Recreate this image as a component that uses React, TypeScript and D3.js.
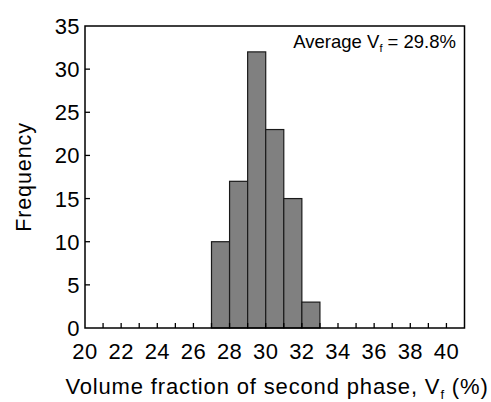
import React from "react";
import * as d3 from "d3";

const binStarts = [27, 28, 29, 30, 31, 32];
const frequencies = [10, 17, 32, 23, 15, 3];
const binWidth = 1;
const xTickLabels = [20, 22, 24, 26, 28, 30, 32, 34, 36, 38, 40];
const xMinorTicks = d3.range(21, 41, 1);
const yTickLabels = [0, 5, 10, 15, 20, 25, 30, 35];
const xTitle = "Volume fraction of second phase, V";
const yTitle = "Frequency";

const W = 491;
const H = 402;
const m = { left: 85, right: 26.5, top: 26, bottom: 74 };
const FONT = "'Liberation Sans', Arial, Helvetica, sans-serif";

export default function App() {
  const x = d3.scaleLinear().domain([20, 41]).range([m.left, W - m.right]);
  const y = d3.scaleLinear().domain([0, 35]).range([H - m.bottom, m.top]);
  const x0 = x(20), x1 = x(41), y0 = y(0), y1 = y(35);
  return (
    <svg width={W} height={H} style={{ position: "absolute", left: 0, top: 0, background: "#fff" }}
      fontFamily={FONT}>
      {binStarts.map((s, i) => (
        <rect key={i} x={x(s)} y={y(frequencies[i])} width={x(s + binWidth) - x(s)}
          height={y(0) - y(frequencies[i])} fill="#808080" stroke="#1a1a1a" strokeWidth={1.2} />
      ))}
      {xMinorTicks.map((t) => (
        <line key={"xt" + t} x1={x(t)} x2={x(t)} y1={y0} y2={y0 - 5} stroke="#000" strokeWidth={1.3} />
      ))}
      {yTickLabels.filter((t) => t > 0 && t < 35).map((t) => (
        <line key={"yt" + t} x1={x0} x2={x0 + 5} y1={y(t)} y2={y(t)} stroke="#000" strokeWidth={1.3} />
      ))}
      <rect x={x0} y={y1} width={x1 - x0} height={y0 - y1} fill="none" stroke="#000" strokeWidth={1.5} />
      {xTickLabels.map((t) => (
        <text key={"xl" + t} x={x(t)} y={y0 + 31} textAnchor="middle" fontSize={22} letterSpacing={0.4}>{t}</text>
      ))}
      {yTickLabels.map((t) => (
        <text key={"yl" + t} x={x0 - 5} y={y(t) + 8} textAnchor="end" fontSize={22} letterSpacing={0.4}>{t}</text>
      ))}
      <text x={x0 - 60} y={(y0 + y1) / 2} textAnchor="middle" fontSize={21.5} letterSpacing={0.9}
        transform={`rotate(-90, ${x0 - 60}, ${(y0 + y1) / 2})`} dominantBaseline="middle">{yTitle}</text>
      <text x={277} y={394} textAnchor="middle" fontSize={22} letterSpacing={0.85}>
        {xTitle}
        <tspan fontSize={13} dy={5}>f</tspan>
        <tspan dy={-5}> (%)</tspan>
      </text>
      <text x={456} y={48} textAnchor="end" fontSize={18.5}>
        Average V<tspan fontSize={11} dy={4}>f</tspan><tspan dy={-4}> = 29.8%</tspan>
      </text>
    </svg>
  );
}
